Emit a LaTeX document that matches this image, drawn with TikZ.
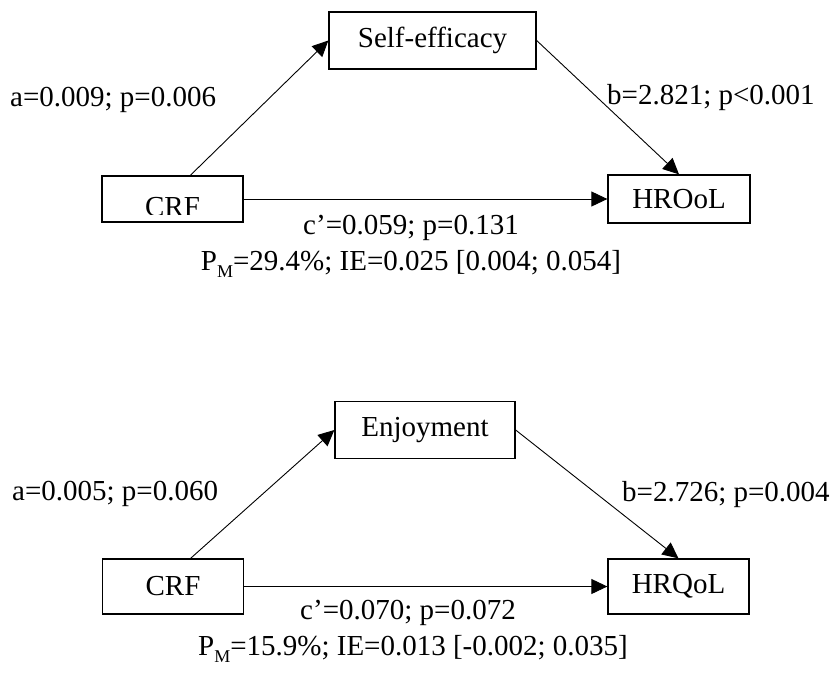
\documentclass[tikz,border=0pt]{standalone}
\usepackage{fontspec}
\setmainfont{Liberation Serif}
\usepackage{tikz}
\usetikzlibrary{arrows.meta}
\newcommand{\pmsub}{P\raisebox{-7pt}{\fontsize{18}{20}\selectfont M}}
\tikzset{
    var-box/.style = {draw=black, fill=white, line width=1.3pt, rectangle, inner sep=0pt, minimum height=57pt},
    path-arrow/.style = {draw=black, line width=0.9pt, -{Triangle[length=16pt,width=15pt]}},
    path-label/.style = {inner sep=0pt},
}

\begin{document}
\begin{tikzpicture}[x=1pt, y=-1pt, font=\fontsize{29}{34}\selectfont]
\useasboundingbox (0,0) rectangle (837,675);
% first model: self-efficacy
\node [var-box, minimum width=207pt] (med1) at (432.5,40.5) {Self-efficacy};
\node [var-box, minimum width=141pt, minimum height=46pt] (crf1) at (172.5,199) {};
\node [var-box, minimum width=142pt, minimum height=48pt] (hrq1) at (679,199) {HROoL};
\begin{scope}
\clip (crf1.north west) rectangle ([yshift=8pt]crf1.south east);
\node [path-label, anchor=base] at ([yshift=-17pt]crf1.center) {CRF};
\end{scope}
\draw [path-arrow] (crf1.53) -- (med1.west);
\draw [path-arrow] (med1.east) -- (hrq1.north);
\draw [path-arrow] (crf1.east) -- (hrq1.west);
\node [path-label, anchor=west] at (10,100) {a=0.009; p=0.006};
\node [path-label, anchor=west] at (607,98) {b=2.821; p<0.001};
\node [path-label] at (411,228) {c’=0.059; p=0.131};
\node [path-label] at (411,264) {\pmsub=29.4\%; IE=0.025 [0.004; 0.054]};
% second model: enjoyment
\node [var-box, minimum width=180pt] (med2) at (425,430) {Enjoyment};
\node [var-box, minimum width=141pt, minimum height=55pt] (crf2) at (173,586.5) {CRF};
\node [var-box, minimum width=141pt, minimum height=55pt] (hrq2) at (678.5,586.5) {HRQoL};
\draw [path-arrow] (crf2.58) -- (med2.west);
\draw [path-arrow] (med2.east) -- (hrq2.north);
\draw [path-arrow] (crf2.east) -- (hrq2.west);
\node [path-label, anchor=west] at (12,494) {a=0.005; p=0.060};
\node [path-label, anchor=west] at (622,495) {b=2.726; p=0.004};
\node [path-label] at (408,613) {c’=0.070; p=0.072};
\node [path-label] at (413,649) {\pmsub=15.9\%; IE=0.013 [-0.002; 0.035]};
\end{tikzpicture}
\end{document}
